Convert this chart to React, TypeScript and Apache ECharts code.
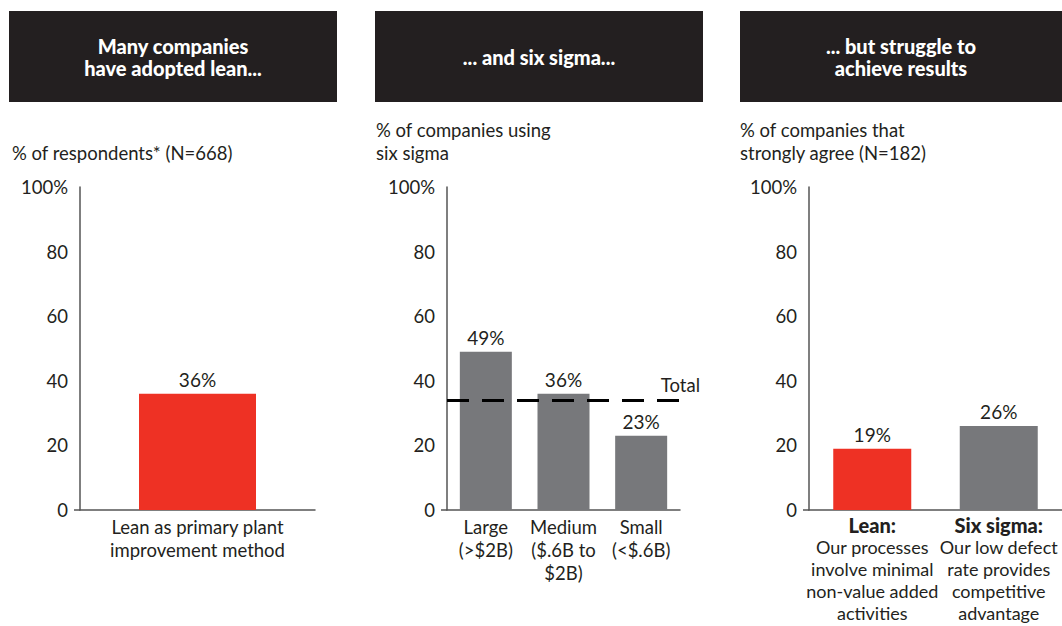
import React, { useEffect, useRef } from "react";
import * as echarts from "echarts";

const headerTitles = ["Many companies\nhave adopted lean...", "... and six sigma...", "... but struggle to\nachieve results"];
const subtitles = ["% of respondents* (N=668)", "% of companies using\nsix sigma", "% of companies that\nstrongly agree (N=182)"];

const leanCategories = ["Lean as primary plant\nimprovement method"];
const leanValues = [36];

const sizeCategories = ["Large\n(>$2B)", "Medium\n($.6B to\n$2B)", "Small\n(<$.6B)"];
const sizeValues = [49, 36, 23];
const sixSigmaTotal = 34;
const totalLabel = "Total";

const resultHeads = ["Lean:", "Six sigma:"];
const resultDescs = ["Our processes\ninvolve minimal\nnon-value added\nactivities", "Our low defect\nrate provides\ncompetitive\nadvantage"];
const resultValues = [19, 26];

const RED = "#EE3124";
const GRAY = "#77787B";
const DARK = "#231F20";
const FONT = "Lato, 'DejaVu Sans', sans-serif";

export default function App() {
  const ref = useRef<HTMLDivElement>(null);
  useEffect(() => {
    const chart = echarts.init(ref.current!, null, { renderer: "svg" });
    const grids = [
      { left: 80, top: 187, width: 235, height: 323, outerBoundsMode: "none", containLabel: false },
      { left: 447, top: 187, width: 233, height: 323, outerBoundsMode: "none", containLabel: false },
      { left: 809, top: 187, width: 253, height: 323, outerBoundsMode: "none", containLabel: false },
    ];
    const yAxisBase = (gi: number) => ({
      type: "value",
      gridIndex: gi,
      min: 0,
      max: 100,
      interval: 20,
      splitLine: { show: false },
      axisTick: { show: false },
      axisLine: { show: true, lineStyle: { color: "#555", width: 1.5 } },
      axisLabel: {
        margin: 12,
        fontSize: 18.5,
        color: DARK,
        fontFamily: FONT,
        formatter: (v: number) => (v === 100 ? "100%" : String(v)),
      },
    });
    const xAxisBase = (gi: number, data: string[], extra: any = {}) => ({
      type: "category",
      gridIndex: gi,
      data,
      axisTick: { show: false },
      axisLine: { show: true, lineStyle: { color: "#555", width: 1.5 } },
      axisLabel: {
        interval: 0,
        margin: 5,
        fontSize: 18.5,
        lineHeight: 23,
        color: DARK,
        fontFamily: FONT,
        ...extra,
      },
    });
    const barLabel = {
      show: true,
      position: "top",
      distance: 5,
      fontSize: 19,
      color: DARK,
      fontFamily: FONT,
      formatter: "{c}%",
    };
    const resultCats = resultHeads.map((h, i) => h + "||" + resultDescs[i]);

    const headerX = [9, 375, 740];
    const headerW = [328, 328, 322];
    const graphic: any[] = [];
    headerX.forEach((x, i) => {
      graphic.push({ type: "rect", shape: { x, y: 11, width: headerW[i], height: 91 }, style: { fill: DARK } });
      graphic.push({
        type: "text",
        x: x + headerW[i] / 2,
        y: 57,
        style: {
          text: headerTitles[i],
          fill: "#fff",
          font: `900 20px ${FONT}`,
          lineHeight: 22,
          align: "center",
          verticalAlign: "middle",
        },
      });
    });
    const subX = [12, 376, 740];
    subX.forEach((x, i) => {
      graphic.push({
        type: "text",
        x,
        y: 164,
        style: {
          text: subtitles[i],
          fill: DARK,
          font: `18.5px ${FONT}`,
          lineHeight: 23,
          align: "left",
          verticalAlign: "bottom",
        },
      });
    });
    [80, 447, 809].forEach((x) => {
      graphic.push({ type: "line", shape: { x1: x - 6, y1: 510, x2: x, y2: 510 }, style: { stroke: "#555", lineWidth: 1.5 } });
    });

    chart.setOption({
      animation: false,
      textStyle: { fontFamily: FONT },
      grid: grids,
      xAxis: [
        xAxisBase(0, leanCategories),
        xAxisBase(1, sizeCategories),
        xAxisBase(2, resultCats, {
          margin: 3,
          formatter: (v: string) => {
            const [h, d] = v.split("||");
            return `{b|${h}}\n` + d.split("\n").map((l) => `{n|${l}}`).join("\n");
          },
          rich: {
            b: { fontSize: 20, fontWeight: 900, lineHeight: 23, color: DARK, fontFamily: FONT },
            n: { fontSize: 18, lineHeight: 22, color: DARK, fontFamily: FONT },
          },
        }),
      ],
      yAxis: [yAxisBase(0), yAxisBase(1), yAxisBase(2)],
      series: [
        {
          type: "bar",
          xAxisIndex: 0,
          yAxisIndex: 0,
          data: leanValues,
          barWidth: 117,
          itemStyle: { color: RED },
          label: barLabel,
        },
        {
          type: "bar",
          xAxisIndex: 1,
          yAxisIndex: 1,
          data: sizeValues,
          barWidth: 52,
          itemStyle: { color: GRAY },
          label: barLabel,
          markLine: {
            silent: true,
            symbol: "none",
            lineStyle: { color: "#000", type: [22, 13], width: 3 },
            label: {
              show: true,
              position: "insideEndTop",
              formatter: totalLabel,
              fontSize: 18.5,
              color: DARK,
              fontFamily: FONT,
              distance: [-20, 6],
            },
            data: [{ yAxis: sixSigmaTotal }],
          },
        },
        {
          type: "bar",
          xAxisIndex: 2,
          yAxisIndex: 2,
          data: resultValues.map((v, i) => ({ value: v, itemStyle: { color: i === 0 ? RED : GRAY } })),
          barWidth: 78,
          label: barLabel,
        },
      ],
      graphic,
    });
    return () => chart.dispose();
  }, []);
  return <div ref={ref} style={{ position: "absolute", left: 0, top: 0, width: 1062, height: 626 }} />;
}
